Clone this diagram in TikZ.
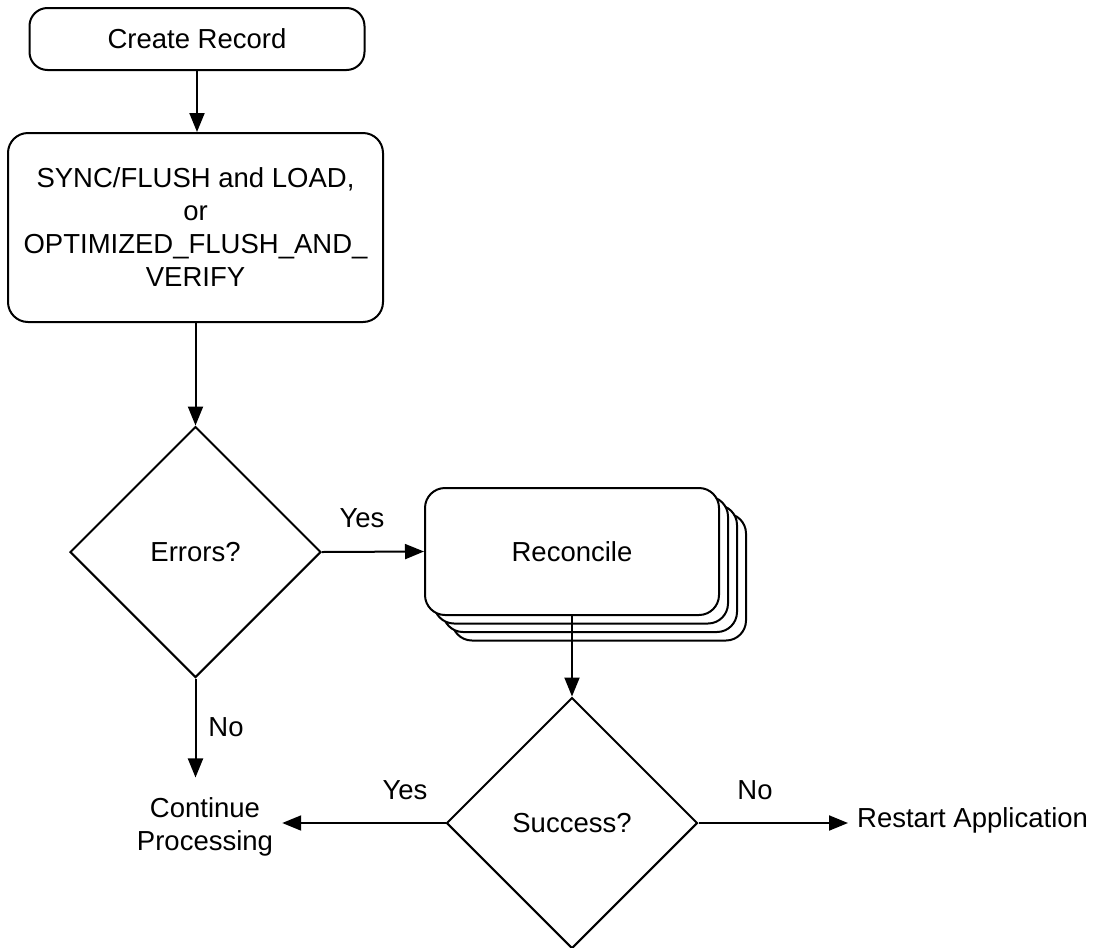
\documentclass[tikz,border=0pt]{standalone}
\usepackage{fontspec}
\setmainfont{Liberation Sans}
\usetikzlibrary{shapes.geometric,arrows.meta}
\begin{document}
\begin{tikzpicture}[x=1pt,y=-1pt,
  every node/.style={font=\fontsize{27.5}{33}\selectfont},
  box/.style={draw, line width=2pt, rounded corners=18pt, align=center, fill=white, inner sep=0pt},
  decision/.style={draw, diamond, line width=2pt, minimum width=251pt, minimum height=251pt, inner sep=0pt, aspect=1},
  flow/.style={line width=2pt, -{Triangle[length=19pt,width=15pt]}},
  lbl/.style={inner sep=0pt}
]
\useasboundingbox (0,0) rectangle (1098,948);

% process boxes
\node[box, minimum width=335pt, minimum height=62pt] (create) at (197,39) {Create Record};
\node[box, rounded corners=20pt, minimum width=375pt, minimum height=189pt] (sync) at (195.5,227.5)
  {SYNC/FLUSH and LOAD,\\or\\OPTIMIZED\_FLUSH\_AND\_\\VERIFY};

% decisions
\node[decision] (err) at (195.5,552) {Errors?};
\node[decision] (suc) at (572,823) {Success?};

% stacked reconcile box (three copies behind the front one)
\foreach \k in {3,2,1}
  \node[box, rounded corners=20pt, minimum width=294pt, minimum height=127pt] (recback\k) at (572+9*\k,551.5+8.5*\k) {};
\node[box, rounded corners=20pt, minimum width=294pt, minimum height=127pt] (rec) at (572,551.5) {Reconcile};

% terminal texts
\node[align=center, inner xsep=9pt, inner ysep=20pt] (cont) at (205,827) {Continue\\Processing};
\node[anchor=west, inner sep=9pt] (rst) at (848,820) {Restart Application};

% connectors
\draw[flow] (create.south) -- (create.south |- sync.north);
\draw[flow] (sync.south) -- (err.north);
\draw[flow] (err.east) -- (rec.west);
\draw[flow] (rec.south) -- (suc.north);
\draw[flow] (err.south) -- (err.south |- cont.north);
\draw[flow] (suc.west) -- (suc.west -| cont.east);
\draw[flow] (suc.east) -- (suc.east -| rst.west);

% branch labels
\node[lbl] (yesA) at (362,518) {Yes};
\node[lbl] (noA) at (226,727) {No};
\node[lbl] (yesB) at (405,790) {Yes};
\node[lbl] (noB) at (755,790) {No};
\end{tikzpicture}
\end{document}
